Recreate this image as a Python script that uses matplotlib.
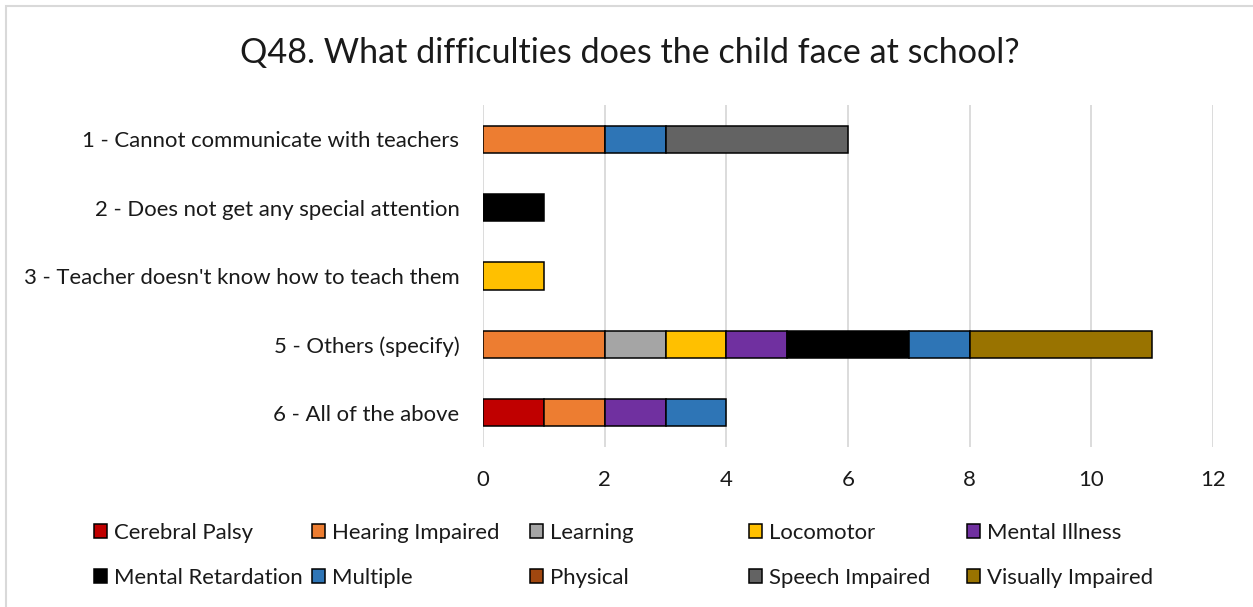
import matplotlib
matplotlib.use("Agg")
import matplotlib.pyplot as plt
import numpy as np
from matplotlib.patches import Rectangle, Patch

plt.rcParams['font.family'] = ['Lato', 'DejaVu Sans']

# categories (top to bottom)
categories = [
    "1 - Cannot communicate with teachers",
    "2 - Does not get any special attention",
    "3 - Teacher doesn't know how to teach them",
    "5 - Others (specify)",
    "6 - All of the above",
]

# one list per disability type, values in category order
cerebral_palsy = [0, 0, 0, 0, 1]
hearing_impaired = [2, 0, 0, 2, 1]
learning = [0, 0, 0, 1, 0]
locomotor = [0, 0, 1, 1, 0]
mental_illness = [0, 0, 0, 1, 1]
mental_retardation = [0, 1, 0, 2, 0]
multiple = [1, 0, 0, 1, 1]
physical = [0, 0, 0, 0, 0]
speech_impaired = [3, 0, 0, 0, 0]
visually_impaired = [0, 0, 0, 3, 0]

series_names = ["Cerebral Palsy", "Hearing Impaired", "Learning", "Locomotor",
                "Mental Illness", "Mental Retardation", "Multiple", "Physical",
                "Speech Impaired", "Visually Impaired"]
series_values = [cerebral_palsy, hearing_impaired, learning, locomotor,
                 mental_illness, mental_retardation, multiple, physical,
                 speech_impaired, visually_impaired]
colors = ["#C00000", "#ED7D31", "#A5A5A5", "#FFC000", "#7030A0",
          "#000000", "#2E75B6", "#A0470F", "#636363", "#997300"]

x_ticks = [0, 2, 4, 6, 8, 10, 12]

W, H = 1253, 607
FS = 15.9
TXT = "#1a1a1a"
fig = plt.figure(figsize=(W / 100, H / 100), dpi=100)

# chart area outline
fig.patches.append(Rectangle((6 / W, -0.1), 1.2, 1 - 6 / H + 0.1, transform=fig.transFigure,
                             fill=False, edgecolor="#D9D9D9", linewidth=1.5))

ax = fig.add_axes([483 / W, 1 - 447 / H, (1213 - 483) / W, (447 - 105) / H])

y = np.arange(len(categories))
left = np.zeros(len(categories))
for name, vals, col in zip(series_names, series_values, colors):
    vals = np.array(vals, dtype=float)
    mask = vals > 0
    ax.barh(y[mask], vals[mask], left=left[mask], height=0.4, color=col,
            edgecolor="black", linewidth=1.1, zorder=3)
    left += vals

ax.set_xlim(0, 12)
ax.set_ylim(len(categories) - 0.5, -0.5)
ax.set_xticks(x_ticks)
ax.set_yticks(y)
ax.set_yticklabels(categories)
ax.tick_params(axis='x', length=0, pad=16.5, labelsize=FS, labelcolor=TXT)
ax.tick_params(axis='y', length=0, pad=17, labelsize=FS, labelcolor=TXT)
ax.grid(axis='x', color="#D9D9D9", linewidth=1.3, zorder=0)
for s in ax.spines.values():
    s.set_visible(False)

fig.text(630 / W, 1 - 53 / H, "Q48. What difficulties does the child face at school?",
         ha="center", va="center", fontsize=24.6, color=TXT)

# legend, 5 columns x 2 rows
col_x = [94, 312, 530, 749, 967]
row_y = [533, 578]
for i, (name, col) in enumerate(zip(series_names, colors)):
    r, c = divmod(i, 5)
    h = Patch(facecolor=col, edgecolor="black", linewidth=1.1)
    leg = fig.legend([h], [name], loc="center left",
                     bbox_to_anchor=(col_x[c] / W, 1 - row_y[r] / H),
                     frameon=False, fontsize=FS, handlelength=0.6, handleheight=0.6,
                     handletextpad=0.3, borderpad=0, borderaxespad=0)
    for t in leg.get_texts():
        t.set_color(TXT)

fig.savefig("out.png", dpi=100)
